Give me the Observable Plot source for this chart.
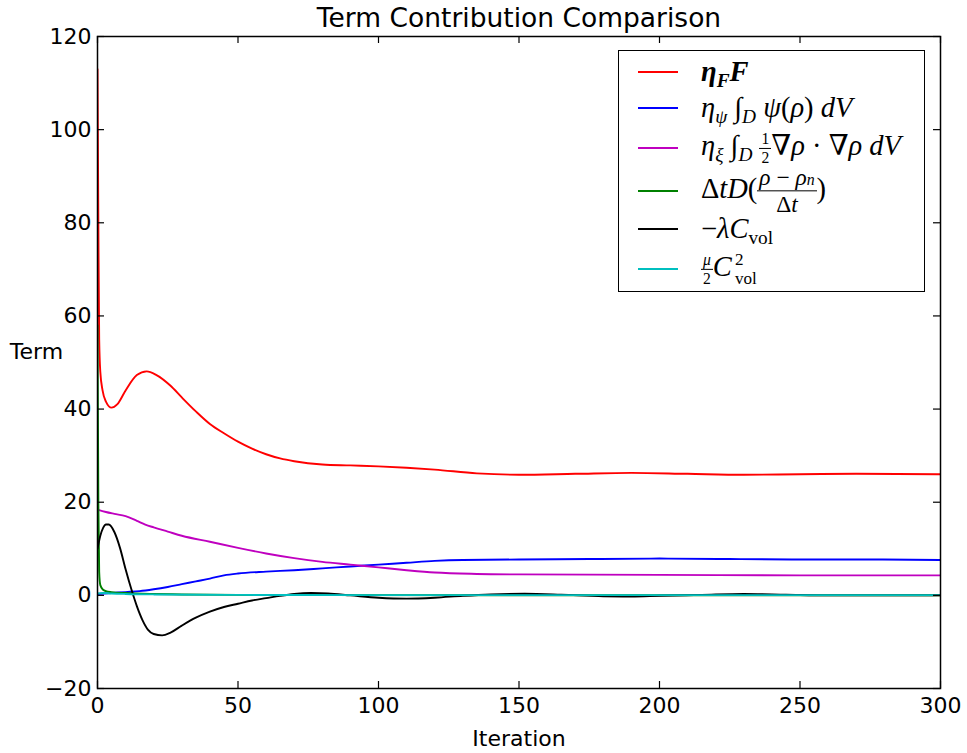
<!DOCTYPE html>
<html>
<head>
<meta charset="utf-8">
<script src="https://cdn.jsdelivr.net/npm/d3@7"></script>
<script src="https://cdn.jsdelivr.net/npm/@observablehq/plot@0.6"></script>
<style>
  html, body { margin: 0; padding: 0; background: #fff; }
  #wrap { position: relative; width: 967px; height: 753px; }
  #legend {
    position: absolute; left: 618px; top: 50px; width: 305px; height: 240px;
    border: 1.5px solid #000; background: #fff;
    font-family: "Liberation Serif", "DejaVu Serif", serif; font-size: 28.5px; color: #000;
  }
  .row { position: absolute; left: 0; width: 100%; height: 0; }
  .sw { position: absolute; left: 19px; width: 40px; height: 2px; top: -1px; }
  .lab { position: absolute; left: 82px; top: 0; transform: translateY(-50%); white-space: nowrap; line-height: 1; }
  .lab sub, .lab sup { font-size: 0.68em; line-height: 0; }
  .frac { display: inline-block; vertical-align: middle; text-align: center; line-height: 1.12; }
  .frac > span { display: block; }
  .frac .num { border-bottom: 1px solid #000; padding: 0 2px 0; }
  .frac.big { font-size: 0.82em; }
  .frac.small { font-size: 0.55em; }
  .ss { display: inline-block; vertical-align: middle; font-size: 0.6em; line-height: 1.12; text-align: left; margin-left: 3px; }
  .ss > span { display: block; }
  .nsub { font-size: 0.68em; }
</style>
</head>
<body>
<div id="wrap"></div>
<script>
// ---- data ----
const xTicks = [0, 50, 100, 150, 200, 250, 300];
const yTicks = [-20, 0, 20, 40, 60, 80, 100, 120];

const redIter = [0, 0.3, 0.6, 1, 1.8, 3, 5, 7, 10, 14, 17.5, 21, 26, 30, 35, 40, 45, 50, 55, 60, 65, 70, 80, 90, 100, 110, 120, 135, 150, 170, 190, 210, 230, 250, 270, 300];
const redVal  = [113, 80, 55, 48, 44, 41.6, 40.3, 41, 44, 47.3, 48.1, 47.3, 45, 42.5, 39.5, 36.8, 34.8, 33, 31.5, 30.3, 29.4, 28.8, 28.1, 27.9, 27.7, 27.4, 27.0, 26.2, 25.9, 26.1, 26.3, 26.1, 25.9, 26.0, 26.1, 26.0];

const blueIter = [0, 5, 10, 15, 20, 25, 30, 35, 40, 45, 50, 60, 70, 80, 90, 100, 110, 120, 130, 150, 175, 200, 225, 250, 275, 300];
const blueVal  = [0.3, 0.5, 0.7, 0.9, 1.3, 1.8, 2.4, 3.0, 3.6, 4.3, 4.7, 5.1, 5.4, 5.8, 6.2, 6.6, 7.0, 7.4, 7.6, 7.7, 7.8, 7.9, 7.8, 7.7, 7.7, 7.6];

const magIter = [0, 3, 6, 10, 14, 17, 20, 25, 30, 40, 50, 60, 70, 80, 90, 100, 110, 120, 135, 150, 200, 250, 300];
const magVal  = [18.4, 17.9, 17.5, 17.0, 16.0, 15.2, 14.6, 13.7, 12.8, 11.5, 10.2, 9.0, 8.0, 7.2, 6.6, 6.0, 5.4, 4.9, 4.6, 4.5, 4.4, 4.3, 4.3];

const greenIter = [0, 0.3, 0.6, 1, 2, 3, 5, 10, 20, 30, 50, 80, 300];
const greenVal  = [58, 20, 5, 2.2, 1.2, 0.9, 0.7, 0.5, 0.3, 0.2, 0.1, 0.05, 0.02];

const blackIter = [0, 1, 2, 3, 4, 6, 8, 10, 12, 14, 16, 18, 20, 23, 26, 30, 35, 40, 45, 50, 55, 60, 65, 70, 76, 82, 90, 100, 110, 120, 130, 140, 152, 165, 180, 190, 200, 215, 230, 245, 260, 280, 300];
const blackVal  = [10, 12.8, 14.5, 15.2, 15.2, 13.6, 10.2, 5.6, 1.4, -2.3, -5.3, -7.4, -8.3, -8.6, -8, -6.5, -4.8, -3.5, -2.5, -1.8, -1.1, -0.6, -0.1, 0.3, 0.5, 0.4, 0, -0.5, -0.7, -0.5, -0.1, 0.2, 0.35, 0.15, -0.2, -0.25, -0.1, 0.1, 0.3, 0.15, 0, 0, 0];

const cyanIter = [0, 2, 5, 10, 20, 50, 100, 300];
const cyanVal  = [0.4, 0.5, 0.4, 0.3, 0.2, 0.1, 0.05, 0.05];

const seriesNames = ["etaF", "psi", "xi", "dt", "lambda", "mu"];
const seriesColors = ["#ff0000", "#0000ff", "#bf00bf", "#008000", "#000000", "#00bfbf"];
const seriesIters = [redIter, blueIter, magIter, greenIter, blackIter, cyanIter];
const seriesVals = [redVal, blueVal, magVal, greenVal, blackVal, cyanVal];

// ---- build table ----
const table = seriesNames.flatMap((name, i) =>
  seriesIters[i].map((it, j) => ({series: name, iter: it, value: seriesVals[i][j]})));

const W = 967, H = 753, mL = 97, mR = 27, mT = 36, mB = 65;
const plotW = W - mL - mR, plotH = H - mT - mB;
const tickLen = 7;

const lineMarks = seriesNames.map((name, i) =>
  Plot.line(table.filter(d => d.series === name), {
    x: "iter", y: "value", stroke: seriesColors[i], strokeWidth: 1.9, curve: "monotone-x", clip: true
  }));

const chart = Plot.plot({
  width: W, height: H,
  marginLeft: mL, marginRight: mR, marginTop: mT, marginBottom: mB,
  style: {fontFamily: "DejaVu Sans", fontSize: "22px", background: "white", color: "black"},
  x: {domain: [0, 300]},
  y: {domain: [-20, 120]},
  marks: [
    ...lineMarks,
    Plot.frame({stroke: "black", strokeWidth: 1.5}),
    // inward ticks on all four sides
    Plot.ruleX(xTicks, {x: d => d, insetTop: plotH - tickLen, stroke: "black", strokeWidth: 1.2}),
    Plot.ruleX(xTicks, {x: d => d, insetBottom: plotH - tickLen, stroke: "black", strokeWidth: 1.2}),
    Plot.ruleY(yTicks, {y: d => d, insetRight: plotW - tickLen, stroke: "black", strokeWidth: 1.2}),
    Plot.ruleY(yTicks, {y: d => d, insetLeft: plotW - tickLen, stroke: "black", strokeWidth: 1.2}),
    Plot.axisX({ticks: xTicks, tickSize: 0, tickPadding: 9, label: null, fontSize: 22, tickFormat: d => String(d)}),
    Plot.axisY({ticks: yTicks, tickSize: 0, tickPadding: 6, label: null, fontSize: 22, tickFormat: d => d < 0 ? "\u2212" + Math.abs(d) : String(d)}),
    Plot.text(["Term Contribution Comparison"], {frameAnchor: "top", dy: -18, fontSize: 26.5, lineAnchor: "middle"}),
    Plot.text(["Iteration"], {frameAnchor: "bottom", dy: 50, fontSize: 22, lineAnchor: "middle"}),
    Plot.text(["Term"], {frameAnchor: "left", dx: -61, dy: -11, fontSize: 22, textAnchor: "middle", lineAnchor: "middle"})
  ]
});

const wrap = document.getElementById("wrap");
wrap.appendChild(chart);

// ---- legend (HTML overlay inside the axes) ----
const legendLabels = [
  '<b><i>η</i><sub><i>F</i></sub><i>F</i></b>',
  '<i>η</i><sub><i>ψ</i></sub> ∫<sub><i>D</i></sub> <i>ψ</i>(<i>ρ</i>) <i>dV</i>',
  '<i>η</i><sub><i>ξ</i></sub> ∫<sub><i>D</i></sub> <span class="frac small"><span class="num">1</span><span>2</span></span>∇<i>ρ</i> · ∇<i>ρ</i> <i>dV</i>',
  'Δ<i>tD</i>(<span class="frac big"><span class="num"><i>ρ</i> − <i>ρ</i><i class="nsub">n</i></span><span>Δ<i>t</i></span></span>)',
  '−<i>λC</i><sub>vol</sub>',
  '<span class="frac small"><span class="num"><i>μ</i></span><span>2</span></span><i>C</i><span class="ss"><span>2</span><span>vol</span></span>'
];
const legendRowY = [21, 57, 97, 140, 178, 218];
const legend = document.createElement("div");
legend.id = "legend";
legendLabels.forEach((html, i) => {
  const row = document.createElement("div");
  row.className = "row";
  row.style.top = legendRowY[i] + "px";
  row.innerHTML = `<span class="sw" style="background:${seriesColors[i]}"></span><span class="lab">${html}</span>`;
  legend.appendChild(row);
});
wrap.appendChild(legend);
</script>
</body>
</html>
